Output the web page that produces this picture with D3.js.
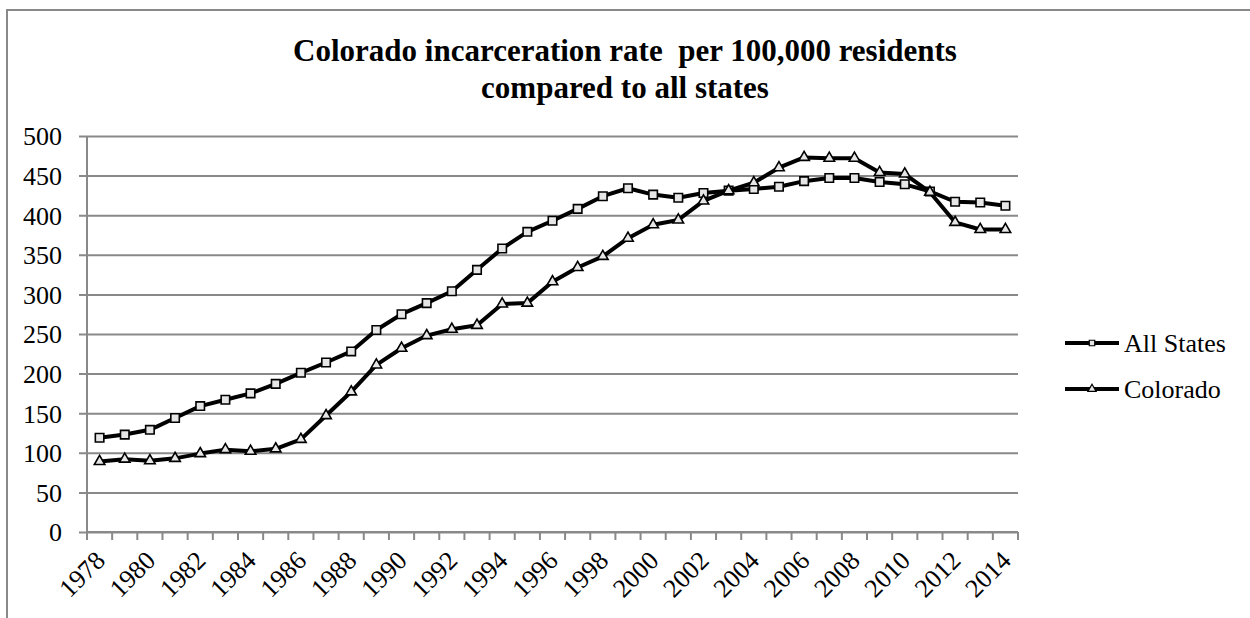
<!DOCTYPE html>
<html>
<head>
<meta charset="utf-8">
<script src="https://cdn.jsdelivr.net/npm/d3@7"></script>
<style>
  html, body { margin: 0; padding: 0; background: #fff; }
  svg { display: block; }
</style>
</head>
<body>
<svg id="chart" width="1250" height="618"></svg>
<script>
// Incarceration rate per 100,000 residents, 1978-2014
const years = d3.range(1978, 2015).map(String);
const allStates = [119,123,129,144,159,167,175,187,201,214,228,255,275,
                   289,304,331,358,379,393,408,424,434,426,422,428,431,433,436,443,
                   447,447,442,439,430,417,416,412];
const colorado  = [89,92,90,93,99,104,102,105,117,147,177,211,232,
                   248,256,261,288,289,316,334,348,371,388,394,418,431,441,460,473,
                   472,472,454,452,429,391,382,382];
const yTicks = [0,50,100,150,200,250,300,350,400,450,500];
const xLabels = years.filter((y, i) => i % 2 === 0);
const titleLines = ["Colorado incarceration rate  per 100,000 residents", "compared to all states"];
const seriesNames = ["All States", "Colorado"];

const svg = d3.select("#chart");
const font = "'Liberation Serif', 'Times New Roman', serif";
const gridColor = "#898989";

const plot = { left: 87, right: 1018, top: 136, bottom: 532 };

const x = d3.scaleBand().domain(years).range([plot.left, plot.right]).paddingInner(0).paddingOuter(0);
const y = d3.scaleLinear().domain([0, 500]).range([plot.bottom, plot.top]);
const cx = d => x(d) + x.bandwidth() / 2;

// chart frame
svg.append("rect")
  .attr("x", 7).attr("y", 10).attr("width", 1300).attr("height", 700)
  .attr("fill", "none").attr("stroke", gridColor).attr("stroke-width", 2);

// title
const title = svg.append("text")
  .attr("text-anchor", "middle")
  .attr("font-family", font).attr("font-weight", "bold").attr("font-size", 31)
  .attr("fill", "#000")
  .attr("xml:space", "preserve")
  .style("white-space", "pre");
titleLines.forEach((t, i) => {
  title.append("tspan").attr("x", 625).attr("y", 61 + i * 37).text(t);
});

// horizontal gridlines and y axis
const yAxis = d3.axisLeft(y).tickValues(yTicks).tickSize(-(plot.right - plot.left)).tickSizeOuter(0).tickPadding(25);
const gy = svg.append("g").attr("transform", `translate(${plot.left},0)`).call(yAxis);
gy.select(".domain").remove();
gy.selectAll(".tick line")
  .attr("x1", -8)
  .attr("stroke", gridColor).attr("stroke-width", 2);
gy.selectAll(".tick text")
  .attr("font-family", font).attr("font-size", 26).attr("fill", "#000")
  .attr("dy", "0.34em");

svg.append("line")
  .attr("x1", plot.left).attr("x2", plot.left)
  .attr("y1", plot.top).attr("y2", plot.bottom)
  .attr("stroke", gridColor).attr("stroke-width", 2);

// x axis: ticks on category boundaries
const gx = svg.append("g").attr("transform", `translate(0,${plot.bottom})`);
gx.append("line")
  .attr("x1", plot.left).attr("x2", plot.right)
  .attr("stroke", gridColor).attr("stroke-width", 2);
const boundaries = years.map(d => x(d)).concat([plot.right]);
gx.selectAll("line.tick").data(boundaries).join("line")
  .attr("class", "tick")
  .attr("x1", d => d).attr("x2", d => d)
  .attr("y1", 0).attr("y2", 8)
  .attr("stroke", gridColor).attr("stroke-width", 2);
gx.selectAll("text").data(xLabels).join("text")
  .attr("font-family", font).attr("font-size", 26).attr("fill", "#000")
  .attr("text-anchor", "end")
  .attr("transform", d => `translate(${cx(d) + 7},${30}) rotate(-45)`)
  .text(d => d);

// series
const line = d3.line().x((d, i) => cx(years[i])).y(d => y(d));
const series = [
  { name: seriesNames[0], values: allStates, symbol: d3.symbolSquare, size: 72 },
  { name: seriesNames[1], values: colorado, symbol: d3.symbolTriangle, size: 48 }
];

series.forEach(s => {
  svg.append("path")
    .datum(s.values)
    .attr("d", line)
    .attr("fill", "none")
    .attr("stroke", "#000").attr("stroke-width", 4)
    .attr("stroke-linejoin", "round");
  svg.append("g").selectAll("path").data(s.values).join("path")
    .attr("d", d3.symbol().type(s.symbol).size(s.size))
    .attr("transform", (d, i) => `translate(${cx(years[i])},${y(d)})`)
    .attr("fill", "#e6e6e6").attr("stroke", "#000").attr("stroke-width", 1.6);
});

// legend
const legend = svg.append("g");
series.forEach((s, i) => {
  const ly = 343 + i * 46;
  legend.append("line")
    .attr("x1", 1065).attr("x2", 1119).attr("y1", ly).attr("y2", ly)
    .attr("stroke", "#000").attr("stroke-width", 4);
  legend.append("path")
    .attr("d", d3.symbol().type(s.symbol).size(30))
    .attr("transform", `translate(1092,${ly})`)
    .attr("fill", "#e6e6e6").attr("stroke", "#000").attr("stroke-width", 1.2);
  legend.append("text")
    .attr("x", 1124).attr("y", ly).attr("dy", "0.34em")
    .attr("font-family", font).attr("font-size", 26).attr("fill", "#000")
    .text(s.name);
});
</script>
</body>
</html>
